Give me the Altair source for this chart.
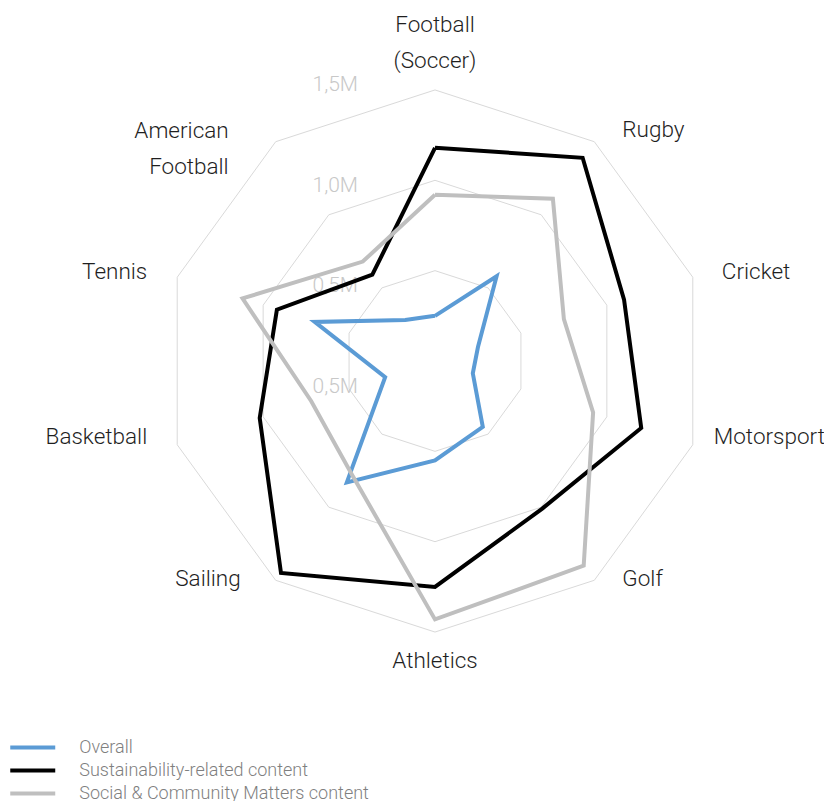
import altair as alt
import pandas as pd

# ---------------- data ----------------
categories = ["Football\n(Soccer)", "Rugby", "Cricket", "Motorsport", "Golf",
              "Athletics", "Sailing", "Basketball", "Tennis", "American\nFootball"]
series_names = ["Overall", "Sustainability-related content",
                "Social & Community Matters content"]
# values in millions
overall = [0.25, 0.58, 0.25, 0.22, 0.45, 0.55, 0.83, 0.29, 0.70, 0.28]
sustainability = [1.18, 1.39, 1.10, 1.20, 1.01, 1.25, 1.45, 1.02, 0.92, 0.59]
social = [0.92, 1.11, 0.75, 0.92, 1.40, 1.43, 0.78, 0.72, 1.12, 0.68]
grid_levels = [0.5, 1.0, 1.5]
tick_values = [1.5, 1.0, 0.5, 0.0]
tick_labels = ["1,5M", "1,0M", "0,5M", "0,5M"]

series_colors = ["#5b9bd5", "#000000", "#bfbfbf"]
N = len(categories)
FONT = "Roboto"

rows = []
for name, vals in zip(series_names, [overall, sustainability, social]):
    for k in range(N + 1):
        rows.append({"series": name, "idx": k, "value": vals[k % N]})
series_df = pd.DataFrame(rows)

grid_df = pd.DataFrame([{"level": lv, "idx": k, "value": lv}
                        for lv in grid_levels for k in range(N + 1)])
label_df = pd.DataFrame({"idx": list(range(N)), "label": categories,
                         "value": [max(grid_levels)] * N})
tick_df = pd.DataFrame({"value": tick_values, "label": tick_labels})

W, H = 816, 793
PX = 180.7          # pixels per million
CX, CY = 427, 353   # centre of the radar inside the plot
xs = alt.Scale(domain=[-CX / PX, (W - CX) / PX], nice=False, zero=False)
ys = alt.Scale(domain=[-(H - CY) / PX, CY / PX], nice=False, zero=False)
X = alt.X("px:Q", scale=xs, axis=None)
Y = alt.Y("py:Q", scale=ys, axis=None)

# tick-label column: its own spacing (labels sit a little apart from the rings)
TPX, T0 = 201.3, 379
tick_scale = alt.Scale(domain=[T0 / TPX - H / TPX, T0 / TPX], nice=False, zero=False)


def polar(ch):
    return (ch.transform_calculate(angle=f"datum.idx * 2 * PI / {N}")
              .transform_calculate(px="datum.value * sin(datum.angle)",
                                   py="datum.value * cos(datum.angle)"))


base_grid = polar(alt.Chart(grid_df)).mark_line(
    color="#d9d9d9", strokeWidth=1).encode(
    x=X, y=Y, detail="level:N", order="idx:Q")

color = alt.Color(
    "series:N",
    scale=alt.Scale(domain=series_names, range=series_colors),
    legend=alt.Legend(title=None, orient="none", legendX=11.25, legendY=726,
                      direction="vertical", symbolType="M-2,0H2",
                      symbolSize=506, symbolStrokeWidth=4,
                      symbolFillColor="transparent",
                      labelFont=FONT, labelFontSize=18, labelFontWeight=300,
                      labelColor="#7f7f7f", labelOffset=33, labelLimit=500,
                      rowPadding=-1, padding=0))

series_layers = []
for name in series_names:
    series_layers.append(
        polar(alt.Chart(series_df).transform_filter(
            alt.datum.series == name)).mark_line(
            strokeWidth=4, strokeJoin="miter").encode(
            x=X, y=Y, color=color, order="idx:Q"))

# label offsets (px) from the outer vertex: dx, dy, align
label_style = {
    0: (0, -65, "center"),
    1: (28, -12, "left"),
    2: (29, -5, "left"),
    3: (21, -8, "left"),
    4: (28, -1, "left"),
    5: (0, 29, "center"),
    6: (-35, -1, "right"),
    7: (-30, -8, "right"),
    8: (-30, -5, "right"),
    9: (-47, -11, "right"),
}
label_layers = []
for i in range(N):
    dx, dy, al = label_style[i]
    label_layers.append(
        polar(alt.Chart(label_df).transform_filter(alt.datum.idx == i))
        .mark_text(align=al, baseline="middle", dx=dx, dy=dy, lineBreak="\n",
                   lineHeight=36, font=FONT, fontSize=22.5, fontWeight=300,
                   color="#1f1f1f")
        .encode(x=X, y=Y, text="label:N"))

tick_layer = alt.Chart(tick_df).mark_text(
    align="right", baseline="middle", dx=-77, font=FONT, fontSize=21,
    fontWeight=300, color="#c8c8c8").encode(
    x=alt.XDatum(0, scale=xs, axis=None),
    y=alt.Y("value:Q", scale=tick_scale, axis=None),
    text="label:N")

chart = alt.layer(base_grid, tick_layer, *series_layers, *label_layers).resolve_scale(
    y="independent").properties(
    width=W, height=H, padding=0,
    autosize=alt.AutoSizeParams(type="none"),
    background="white").configure_view(stroke=None)

chart.save("out.html", embed_options={"renderer": "svg", "actions": False})
